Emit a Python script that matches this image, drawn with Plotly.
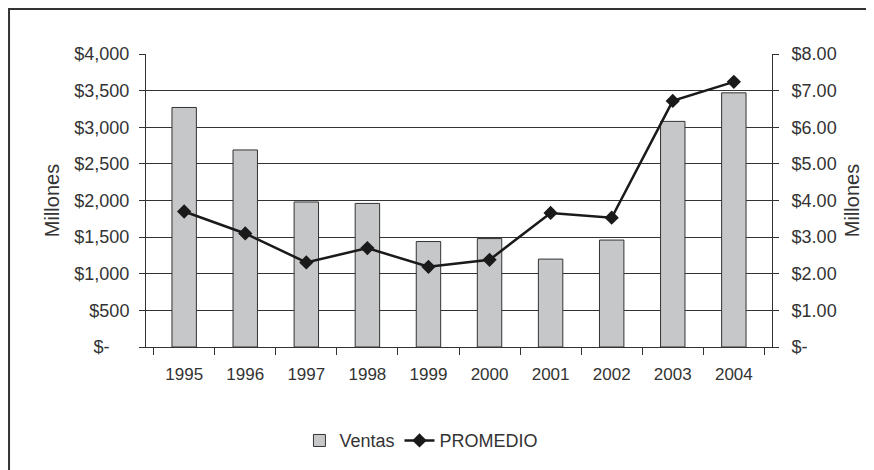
import plotly.graph_objects as go

years = ["1995", "1996", "1997", "1998", "1999", "2000", "2001", "2002", "2003", "2004"]
ventas = [3270, 2690, 1980, 1960, 1440, 1480, 1200, 1460, 3080, 3470]
promedio = [3.70, 3.10, 2.31, 2.70, 2.19, 2.38, 3.66, 3.53, 6.72, 7.24]

left_vals = [0, 500, 1000, 1500, 2000, 2500, 3000, 3500, 4000]
left_text = ["$-\u00a0\u00a0\u00a0\u00a0", "$500", "$1,000", "$1,500", "$2,000",
             "$2,500", "$3,000", "$3,500", "$4,000"]
right_vals = [0, 1, 2, 3, 4, 5, 6, 7, 8]
right_text = ["$-", "$1.00", "$2.00", "$3.00", "$4.00", "$5.00", "$6.00", "$7.00", "$8.00"]

font_color = "#333333"

fig = go.Figure()
fig.add_trace(go.Bar(x=years, y=ventas, name="Ventas",
                     marker=dict(color="#c6c7c9", line=dict(color="#333333", width=1))))
fig.add_trace(go.Scatter(x=years, y=promedio, name="PROMEDIO", yaxis="y2",
                         mode="lines+markers",
                         line=dict(color="#1a1a1a", width=2.5),
                         marker=dict(symbol="diamond", size=11, color="#1a1a1a")))

# page body has an 8px margin, so offset the plot margins
fig.update_layout(
    width=874, height=470,
    margin=dict(l=138, r=110, t=46, b=131),
    paper_bgcolor="white", plot_bgcolor="white",
    font=dict(family="Liberation Sans, Arial, sans-serif", size=18, color=font_color),
    bargap=0.6,
    showlegend=True,
    legend=dict(orientation="h", x=0.44, xanchor="center", y=-0.32, yanchor="middle",
                font=dict(size=18), itemwidth=30, tracegroupgap=0),
    xaxis=dict(type="category", tickson="boundaries", ticks="outside", ticklen=7,
               tickcolor="#333333", showline=True, linecolor="#333333", linewidth=1,
               showgrid=False, tickfont=dict(size=17), ticklabelstandoff=12),
    yaxis=dict(range=[0, 4000], tickvals=left_vals, ticktext=left_text,
               showgrid=True, gridcolor="#333333", gridwidth=1,
               showline=True, linecolor="#333333", linewidth=1,
               ticks="outside", ticklen=6, tickcolor="#333333", ticklabelstandoff=6,
               title=dict(text="Millones", standoff=9, font=dict(size=20)), zeroline=False),
    yaxis2=dict(range=[0, 8], tickvals=right_vals, ticktext=right_text,
                overlaying="y", side="right", showgrid=False,
                showline=True, linecolor="#333333", linewidth=1,
                ticks="outside", ticklen=6, tickcolor="#333333", ticklabelstandoff=9,
                title=dict(text="Millones", standoff=9, font=dict(size=20)), zeroline=False),
    shapes=[dict(type="rect", xref="paper", yref="paper",
                 x0=-0.2188, x1=1.3, y0=-0.7, y1=1.1536,
                 line=dict(color="#333333", width=2))],
)

fig.write_html("out.html")
